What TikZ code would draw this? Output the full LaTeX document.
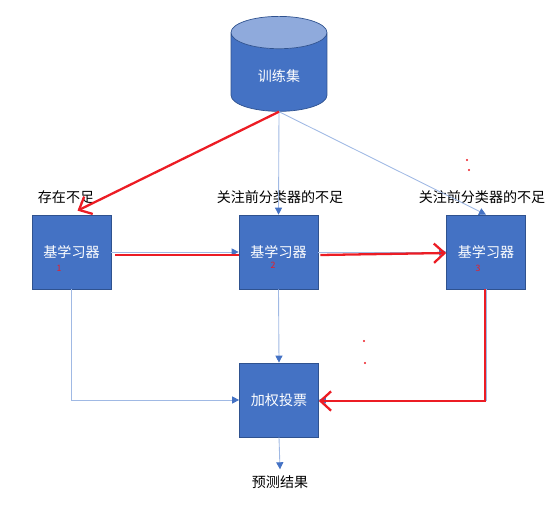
\documentclass[tikz,border=0pt]{standalone}
\usepackage{fontspec}
\setmainfont{Noto Sans CJK SC}
\usetikzlibrary{positioning,arrows.meta,shapes.geometric}

\definecolor{boxblue}{RGB}{68,114,196}
\definecolor{boxedge}{RGB}{47,82,143}
\definecolor{lidblue}{RGB}{143,170,220}
\definecolor{linkblue}{RGB}{160,185,228}
\definecolor{markred}{RGB}{236,28,36}

\begin{document}
\begin{tikzpicture}[x=0.02cm,y=-0.02cm,
learner/.style={draw=boxedge,fill=boxblue,text=white,minimum width=1.58cm,
minimum height=1.48cm,font=\fontsize{8}{9}\selectfont},
note/.style={font=\fontsize{8}{9}\selectfont},
tag/.style={text=markred,font=\fontsize{5}{5}\selectfont,inner sep=0pt},
link/.style={draw=linkblue,line width=0.5pt,
-{Triangle[length=4pt,width=4pt,color=boxblue]}},
redpen/.style={draw=markred,line width=1.3pt},
>={Straight Barb[length=6pt,width=11pt]}]

\useasboundingbox (0,0) rectangle (550,506);

% training data
\node (db) [cylinder,shape border rotate=90,aspect=0.6,draw=boxedge,
cylinder uses custom fill,cylinder body fill=boxblue,cylinder end fill=lidblue,
minimum width=1.92cm,minimum height=1.9cm,text=white,
font=\fontsize{8}{9}\selectfont] at (279,76) {训练集};

% base learners
\node (l1) [learner] at (71.5,252) {基学习器};
\node (l2) [learner] at (278.5,252) {基学习器};
\node (l3) [learner] at (486,252) {基学习器};

\node (t1) [note] at (66,197) {存在不足};
\node (t2) [note] at (280,197) {关注前分类器的不足};
\node (t3) [note] at (482,197) {关注前分类器的不足};

\node (n1) [tag] at (59,268) {1};
\node (n2) [tag] at (273,265) {2};
\node (n3) [tag] at (478,268) {3};

% voting
\node (vote) [learner] at (279,400) {加权投票};
\node (res) [note] at (280,482) {预测结果};

\draw[link] (db.south) -- (l2.north);
\draw[link] (db.south) -- (l3.north);
\draw[link] (l1.east) -- (l2.west);
\draw[link] (l2.east) -- (l3.west);
\draw[link] (l1.south) |- (vote.west);
\draw[link] (l2.south) -- (vote.north);
\draw[link] (l3.south) |- (vote.east);
\draw[link] (vote.south) -- (res.north);

% red marks
\draw[redpen,->] (db.south) -- ([xshift=0.12cm,yshift=0.08cm]l1.north);
\draw[redpen] ([xshift=0.08cm,yshift=-0.06cm]l1.east) -- ([yshift=-0.06cm]l2.west);
\draw[redpen,->] ([xshift=0.04cm,yshift=-0.06cm]l2.east) -- ([yshift=-0.02cm]l3.west);
\draw[redpen,->] ([xshift=-0.02cm]l3.south) |- ([yshift=-0.02cm]vote.east);

\fill[markred] (467,160) circle (1.1) (469,170) circle (1.1)
(364,341) circle (1.1) (365,363) circle (1.1);

\end{tikzpicture}
\end{document}
